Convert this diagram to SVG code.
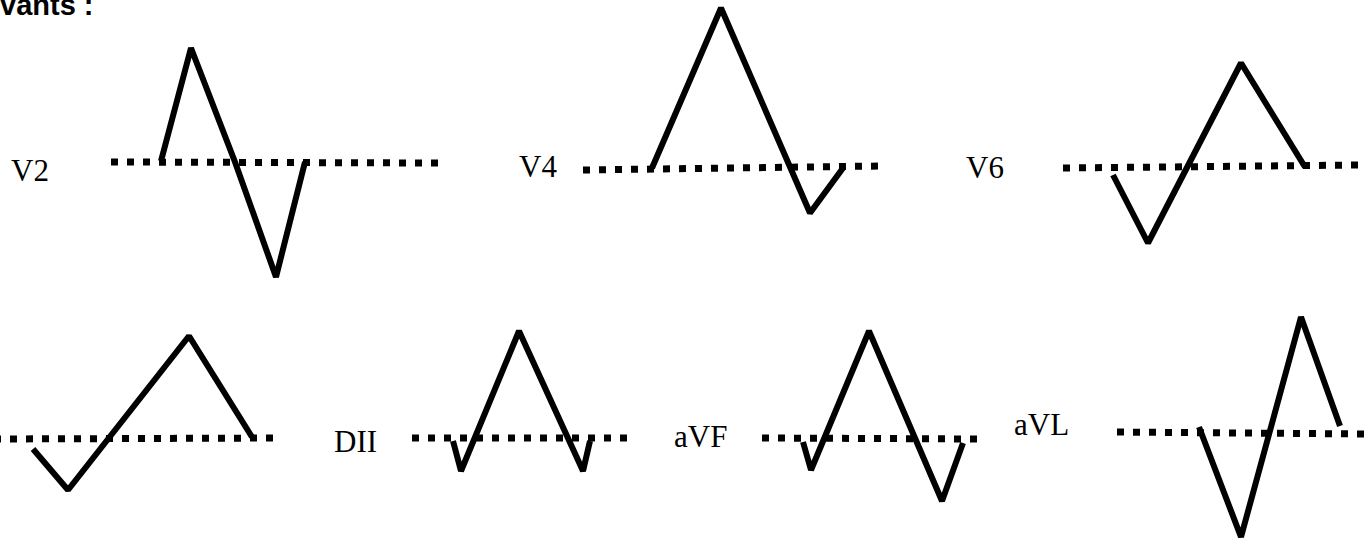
<svg xmlns="http://www.w3.org/2000/svg" width="1370" height="541" viewBox="0 0 1370 541">
<style>
.bg{fill:#fff}
.base{fill:none;stroke:#000;stroke-width:7;stroke-dasharray:7 9;stroke-linecap:butt}
.wave{fill:none;stroke:#000;stroke-width:6;stroke-linejoin:bevel;stroke-linecap:butt}
.lbl{font-family:"Liberation Serif","Times New Roman",serif;font-size:31px;fill:#000}
.title{font-family:"Liberation Sans",Arial,sans-serif;font-size:29px;font-weight:bold;fill:#000}
</style>
<rect class="bg" x="0" y="0" width="1370" height="541"/>
<text class="title" x="0" y="15">vants :</text>
<g id="V2">
<text class="lbl" x="11" y="181">V2</text>
<line class="base" x1="111" y1="162" x2="440" y2="163"/>
<polyline class="wave" points="161,161 191,48 235,162 276,277 305,162"/>
</g>
<g id="V4">
<text class="lbl" x="519" y="177">V4</text>
<line class="base" x1="583" y1="170" x2="882" y2="166"/>
<polyline class="wave" points="652,168 721,8 810,213 843,168"/>
</g>
<g id="V6">
<text class="lbl" x="966" y="178">V6</text>
<line class="base" x1="1063" y1="168" x2="1362" y2="165"/>
<polyline class="wave" points="1113,175 1148,243 1241,63 1305,167"/>
</g>
<g id="lead-unlabeled">
<line class="base" x1="-6" y1="439" x2="281" y2="438"/>
<polyline class="wave" points="33,449 68,490 189,336 252,437"/>
</g>
<g id="DII">
<text class="lbl" x="334" y="452">DII</text>
<line class="base" x1="412" y1="438" x2="630" y2="438"/>
<polyline class="wave" points="453,441 461,471 519,331 583,471 590,441"/>
</g>
<g id="aVF">
<text class="lbl" x="674" y="447">aVF</text>
<line class="base" x1="762" y1="438" x2="979" y2="439"/>
<polyline class="wave" points="803,442 811,470 869,331 942,501 963,443"/>
</g>
<g id="aVL">
<text class="lbl" x="1014" y="435">aVL</text>
<line class="base" x1="1117" y1="432" x2="1366" y2="434"/>
<polyline class="wave" points="1199,427 1241,537 1301,317 1340,426"/>
</g>
</svg>
